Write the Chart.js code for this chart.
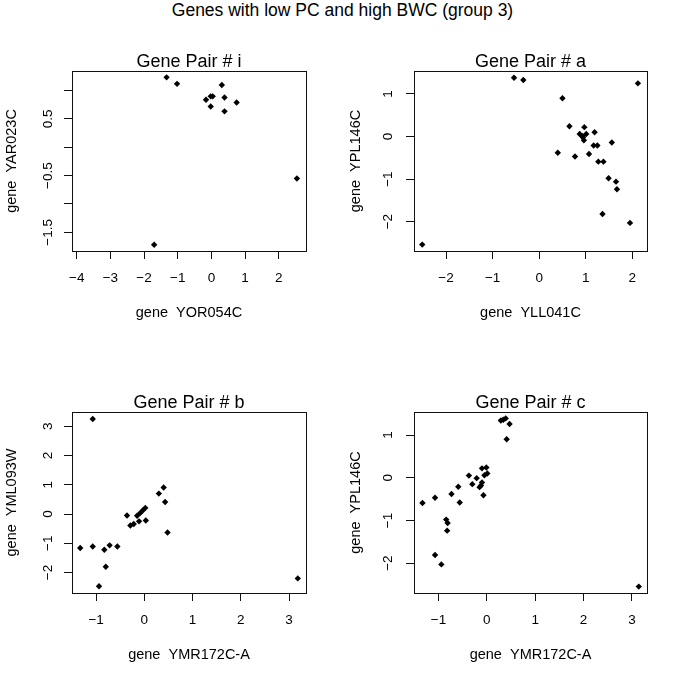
<!DOCTYPE html>
<html><head><meta charset="utf-8">
<script src="https://cdn.jsdelivr.net/npm/chart.js@4"></script>
<style>
html,body{margin:0;padding:0;background:#fff;width:685px;height:682px;overflow:hidden;}
#mainTitle{position:absolute;left:0;top:2px;width:685px;text-align:center;font:17.5px/17.5px "Liberation Sans",Arial,Helvetica,sans-serif;color:#000;white-space:pre;}
</style></head><body>
<div id="mainTitle">Genes with low PC and high BWC (group 3)</div>
<div id="p1"><canvas id="c1"></canvas></div>
<div id="p2"><canvas id="c2"></canvas></div>
<div id="p3"><canvas id="c3"></canvas></div>
<div id="p4"><canvas id="c4"></canvas></div>
<script>
// ---- Data ----
const pairTitles = ['Gene Pair # i', 'Gene Pair # a', 'Gene Pair # b', 'Gene Pair # c'];
const xGeneLabels = ['gene  YOR054C', 'gene  YLL041C', 'gene  YMR172C-A', 'gene  YMR172C-A'];
const yGeneLabels = ['gene  YAR023C', 'gene  YPL146C', 'gene  YML093W', 'gene  YPL146C'];

const pairI_x = [-1.33, -1.02, 0.31, -0.16, -0.02, 0.04, 0.39, 0.75, -0.02, 0.39, 2.54, -1.70];
const pairI_y = [1.235, 1.12, 1.10, 0.84, 0.90, 0.90, 0.88, 0.79, 0.72, 0.635, -0.55, -1.72];

const pairA_x = [-2.51, -0.54, -0.34, 2.12, 0.50, 0.65, 0.97, 1.19, 0.87, 0.93, 1.01, 0.96, 0.94, 1.56, 1.17, 1.25, 0.40, 0.77, 1.07, 1.27, 1.38, 1.49, 1.65, 1.67, 1.36, 1.95];
const pairA_y = [-2.54, 1.38, 1.33, 1.25, 0.90, 0.24, 0.22, 0.10, 0.06, 0.01, 0.06, -0.09, -0.02, -0.14, -0.21, -0.21, -0.38, -0.47, -0.41, -0.59, -0.59, -0.98, -1.06, -1.24, -1.82, -2.03];

const pairB_x = [-1.07, -1.33, -1.07, -0.83, -0.72, -0.56, -0.80, -0.94, -0.36, -0.29, -0.22, -0.11, 0.03, -0.15, -0.09, -0.03, 0.02, 0.30, 0.40, 0.43, 0.48, 3.18];
const pairB_y = [3.25, -1.16, -1.11, -1.22, -1.07, -1.11, -1.80, -2.47, -0.05, -0.39, -0.34, -0.25, -0.22, -0.06, 0.03, 0.13, 0.21, 0.70, 0.91, 0.41, -0.63, -2.20];

const pairC_x = [-1.33, -1.07, -0.84, -0.81, -0.82, -1.07, -0.94, -0.73, -0.59, -0.56, -0.37, -0.30, -0.21, -0.15, -0.12, -0.10, -0.07, -0.10, -0.01, -0.05, 0.01, 0.29, 0.34, 0.39, 0.47, 0.41, 3.14];
const pairC_y = [-0.59, -0.47, -0.98, -1.06, -1.24, -1.81, -2.03, -0.38, -0.21, -0.58, 0.05, -0.15, -0.01, -0.22, -0.18, -0.11, -0.41, 0.22, 0.24, 0.06, 0.10, 1.34, 1.36, 1.39, 1.26, 0.90, -2.55];

const rangeI_x = [-4.14, 2.81], rangeI_y = [-1.83, 1.347];
const rangeA_x = [-2.687, 2.315], rangeA_y = [-2.69, 1.54];
const rangeB_x = [-1.50, 3.35], rangeB_y = [-2.70, 3.49];
const rangeC_x = [-1.505, 3.31], rangeC_y = [-2.70, 1.54];

const ticksI_x = [-4, -3, -2, -1, 0, 1, 2], ticksI_y = [-1.5, -1, -0.5, 0, 0.5, 1];
const ticksA_x = [-2, -1, 0, 1, 2], ticksA_y = [-2, -1, 0, 1];
const ticksB_x = [-1, 0, 1, 2, 3], ticksB_y = [-2, -1, 0, 1, 2, 3];
const ticksC_x = [-1, 0, 1, 2, 3], ticksC_y = [-2, -1, 0, 1];
const shownI_y = [-1.5, -0.5, 0.5];

// ---- Style / layout ----
const FONT = '"Liberation Sans", Arial, Helvetica, sans-serif';
const TICK_SIZE = 13.5, TITLE_SIZE = 18, AXT_SIZE = 14.5, TL = 8;
const meas = document.createElement('canvas').getContext('2d');
function textW(s) { meas.font = TICK_SIZE + 'px ' + FONT; return meas.measureText(s).width; }
function fmt(v) { return v < 0 ? '\u2212' + String(Math.abs(v)) : String(v); }

const boxPlugin = {
  id: 'rbox',
  beforeDatasetsDraw(chart) {
    const { ctx, chartArea: a } = chart;
    ctx.save();
    ctx.strokeStyle = '#111';
    ctx.lineWidth = 1;
    ctx.strokeRect(Math.round(a.left) + 0.5, Math.round(a.top) + 0.5, Math.round(a.right - a.left), Math.round(a.bottom - a.top));
    ctx.restore();
  }
};

function makePanel(p) {
  const el = document.getElementById(p.id);
  el.style.cssText = `position:absolute;left:${p.cx}px;top:${p.cy}px;width:${p.cw}px;height:${p.ch}px`;
  const yLabelFn = v => (p.yShown ? (p.yShown.includes(v) ? fmt(v) : '') : fmt(v));
  const widest = Math.max(...p.yTicks.map(v => textW(yLabelFn(v))));
  const yPad = p.yLabOff - TL - widest / 2;
  const xPad = 27.5 - TL - TICK_SIZE * 1.2 / 2;
  new Chart(document.getElementById(p.canvas), {
    type: 'scatter',
    data: { datasets: [{
      data: p.xs.map((x, i) => ({ x: x, y: p.ys[i] })),
      pointStyle: 'rectRot', pointRadius: 3.2, backgroundColor: '#000', borderWidth: 0
    }] },
    options: {
      responsive: true, maintainAspectRatio: false, animation: false, events: [],
      layout: { padding: { left: 0, top: 0, right: p.cx + p.cw - p.R, bottom: 0 } },
      plugins: {
        legend: { display: false }, tooltip: { enabled: false },
        title: { display: true, fullSize: false, text: p.title, color: '#000',
          font: { family: FONT, size: TITLE_SIZE, lineHeight: 1, weight: 'normal' },
          padding: { top: p.T - 9 - TITLE_SIZE / 2 - p.cy, bottom: 0 } }
      },
      scales: {
        x: {
          type: 'linear', position: 'bottom', min: p.xr[0], max: p.xr[1],
          afterBuildTicks: s => { s.ticks = p.xTicks.map(v => ({ value: v })); },
          afterFit: s => { s.height = p.cy + p.ch - p.B; },
          ticks: { autoSkip: false, minRotation: 0, maxRotation: 0, padding: xPad, color: '#000',
            font: { family: FONT, size: TICK_SIZE }, callback: v => fmt(v) },
          grid: { display: true, drawOnChartArea: false, drawTicks: true, tickLength: TL, color: '#111', lineWidth: 1 },
          border: { display: false },
          title: { display: true, text: p.xTitle, color: '#000', font: { family: FONT, size: AXT_SIZE, lineHeight: 1 },
            padding: { top: 0, bottom: p.cy + p.ch - (p.B + 62) - AXT_SIZE / 2 } }
        },
        y: {
          type: 'linear', position: 'left', min: p.yr[0], max: p.yr[1],
          afterBuildTicks: s => { s.ticks = p.yTicks.map(v => ({ value: v })); },
          afterFit: s => { s.width = p.L - p.cx; },
          ticks: { autoSkip: false, minRotation: 90, maxRotation: 90, crossAlign: 'center', padding: yPad, color: '#000',
            font: { family: FONT, size: TICK_SIZE }, callback: v => yLabelFn(v) },
          grid: { display: true, drawOnChartArea: false, drawTicks: true, tickLength: TL, color: '#111', lineWidth: 1 },
          border: { display: false },
          title: { display: true, text: p.yTitle, color: '#000', font: { family: FONT, size: AXT_SIZE, lineHeight: 1 },
            padding: { top: p.L - p.yTitleOff - p.cx - AXT_SIZE / 2, bottom: 0 } }
        }
      }
    },
    plugins: [boxPlugin]
  });
}

makePanel({ id: 'p1', canvas: 'c1', cx: 0, cy: 28, cw: 342, ch: 312, L: 72, T: 71, R: 306, B: 251,
  xs: pairI_x, ys: pairI_y, xr: rangeI_x, yr: rangeI_y, xTicks: ticksI_x, yTicks: ticksI_y, yShown: shownI_y,
  title: pairTitles[0], xTitle: xGeneLabels[0], yTitle: yGeneLabels[0], yLabOff: 24, yTitleOff: 60 });
makePanel({ id: 'p2', canvas: 'c2', cx: 342, cy: 28, cw: 343, ch: 312, L: 414, T: 71, R: 647, B: 251,
  xs: pairA_x, ys: pairA_y, xr: rangeA_x, yr: rangeA_y, xTicks: ticksA_x, yTicks: ticksA_y, yShown: null,
  title: pairTitles[1], xTitle: xGeneLabels[1], yTitle: yGeneLabels[1], yLabOff: 25.5, yTitleOff: 57.7 });
makePanel({ id: 'p3', canvas: 'c3', cx: 0, cy: 360, cw: 342, ch: 322, L: 72, T: 412, R: 306, B: 593,
  xs: pairB_x, ys: pairB_y, xr: rangeB_x, yr: rangeB_y, xTicks: ticksB_x, yTicks: ticksB_y, yShown: null,
  title: pairTitles[2], xTitle: xGeneLabels[2], yTitle: yGeneLabels[2], yLabOff: 24, yTitleOff: 60 });
makePanel({ id: 'p4', canvas: 'c4', cx: 342, cy: 360, cw: 343, ch: 322, L: 414, T: 412, R: 647, B: 593,
  xs: pairC_x, ys: pairC_y, xr: rangeC_x, yr: rangeC_y, xTicks: ticksC_x, yTicks: ticksC_y, yShown: null,
  title: pairTitles[3], xTitle: xGeneLabels[3], yTitle: yGeneLabels[3], yLabOff: 25.5, yTitleOff: 57.7 });
</script>
</body></html>
